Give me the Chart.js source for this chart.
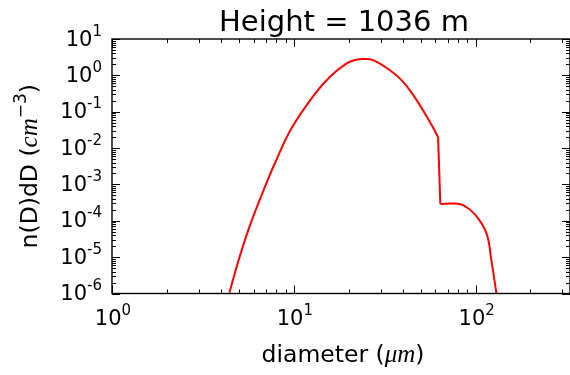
<!DOCTYPE html>
<html>
<head>
<meta charset="utf-8">
<script src="https://cdn.jsdelivr.net/npm/chart.js@4/dist/chart.umd.min.js"></script>
<style>
  html, body { margin: 0; padding: 0; background: #fff; }
  #wrap { width: 570px; height: 375px; }
</style>
</head>
<body>
<div id="wrap"><canvas id="c" width="570" height="375"></canvas></div>
<script>
// Droplet size distribution at one altitude
const titleText = 'Height = 1036 m';
const diameter = [4.43, 4.94, 5.66, 6.65, 7.93, 9.71, 12.93, 15.8, 19.5, 21.6, 24.0, 27.3, 33.6, 39.1, 45.3, 55.8, 62.1,
                  63.9, 75, 85.2, 99.0, 114.5, 121.9, 130];
const concentration = [1.07e-6, 7.5e-6, 6.2e-5, 5.1e-4, 4.2e-3, 3.5e-2, 0.29, 0.92, 2.14, 2.63, 2.82, 2.63, 1.40, 0.74, 0.29, 0.054, 0.020,
                       2.9e-4, 3.0e-4, 2.7e-4, 1.5e-4, 4.6e-5, 8.3e-6, 1.0e-6];
// last diameter of the main mode, where the distribution steps down
const stepDiameter = 62.1;

// Axis ranges and labelled decades
const xRange = [1, 330];
const yRange = [1e-6, 10];
const xTickExponents = [0, 1, 2];
const yTickExponents = [1, 0, -1, -2, -3, -4, -5, -6];

const points = diameter.map((d, i) => ({ x: d, y: concentration[i] }));
const iStep = diameter.indexOf(stepDiameter);
const mainMode = points.slice(0, iStep + 1);
const stepDown = points.slice(iStep, iStep + 2);
const tailMode = points.slice(iStep + 1);

const SANS = 'DejaVu Sans';
const MATH = 'Liberation Serif';

// Draw a run of differently styled text pieces, centred on (cx, baseline)
function drawRuns(ctx, runs, cx, baseline) {
  let total = 0;
  runs.forEach(r => { ctx.font = r.font; r.w = ctx.measureText(r.text).width; total += r.w; });
  let x = cx - total / 2;
  ctx.textAlign = 'left';
  ctx.textBaseline = 'alphabetic';
  runs.forEach(r => {
    ctx.font = r.font;
    ctx.fillText(r.text, x, baseline + (r.dy || 0));
    x += r.w;
  });
}

function powRuns(e) {
  return [
    { text: '10', font: `21px ${SANS}` },
    { text: String(e), font: `15px ${SANS}`, dy: -10 }
  ];
}

const axesPainter = {
  id: 'axesPainter',
  afterDraw(chart) {
    const { ctx, chartArea: a, scales } = chart;
    const xs = scales.x, ys = scales.y;
    ctx.save();
    ctx.strokeStyle = '#000';
    ctx.fillStyle = '#000';
    ctx.lineWidth = 1;

    // x ticks on bottom and top, pointing inward
    ctx.beginPath();
    for (let e = 0; e <= 2; e++) {
      for (let m = 1; m <= 9; m++) {
        const v = m * Math.pow(10, e);
        if (v < xRange[0] || v > xRange[1]) continue;
        const px = Math.round(xs.getPixelForValue(v)) + 0.5;
        const len = m === 1 ? 8 : 4;
        ctx.moveTo(px, a.bottom); ctx.lineTo(px, a.bottom - len);
        ctx.moveTo(px, a.top); ctx.lineTo(px, a.top + len);
      }
    }
    // y ticks on left and right
    for (let e = -6; e <= 1; e++) {
      for (let m = 1; m <= 9; m++) {
        const v = m * Math.pow(10, e);
        if (v < yRange[0] * 0.999 || v > yRange[1] * 1.001) continue;
        const py = Math.round(ys.getPixelForValue(v)) + 0.5;
        const len = m === 1 ? 8 : 4;
        ctx.moveTo(a.left, py); ctx.lineTo(a.left + len, py);
        ctx.moveTo(a.right, py); ctx.lineTo(a.right - len, py);
      }
    }
    ctx.stroke();

    // frame
    ctx.lineWidth = 1.4;
    ctx.strokeRect(a.left, a.top, a.right - a.left, a.bottom - a.top);

    // x tick labels
    xTickExponents.forEach(e => {
      const px = xs.getPixelForValue(Math.pow(10, e));
      drawRuns(ctx, powRuns(e), px + 1, a.bottom + 31.5);
    });

    // y tick labels, right aligned
    yTickExponents.forEach(e => {
      const py = ys.getPixelForValue(Math.pow(10, e));
      const runs = powRuns(e);
      let w = 0;
      runs.forEach(r => { ctx.font = r.font; w += ctx.measureText(r.text).width; });
      drawRuns(ctx, runs, a.left - 10 - w / 2, py + 6.5);
    });

    // title
    drawRuns(ctx, [{ text: titleText, font: `29px ${SANS}` }], 344, 31);

    // x axis title
    drawRuns(ctx, [
      { text: 'diameter (', font: `23.5px ${SANS}` },
      { text: 'μm', font: `italic 25px ${MATH}` },
      { text: ')', font: `23.5px ${SANS}` }
    ], 343, 362);

    // y axis title, rotated
    ctx.save();
    ctx.translate(37, (a.top + a.bottom) / 2);
    ctx.rotate(-Math.PI / 2);
    drawRuns(ctx, [
      { text: 'n(D)dD (', font: `23.5px ${SANS}` },
      { text: 'cm', font: `italic 25px ${MATH}` },
      { text: '−3', font: `17px ${SANS}`, dy: -11 },
      { text: ')', font: `23.5px ${SANS}` }
    ], 0, 0);
    ctx.restore();

    ctx.restore();
  }
};

const lineStyle = { borderColor: '#ff0000', borderWidth: 2, pointRadius: 0, fill: false };

new Chart(document.getElementById('c'), {
  type: 'line',
  data: {
    datasets: [
      { ...lineStyle, data: mainMode, tension: 0.4 },
      { ...lineStyle, data: stepDown, tension: 0 },
      { ...lineStyle, data: tailMode, tension: 0.4 }
    ]
  },
  options: {
    responsive: false,
    animation: false,
    devicePixelRatio: 1,
    layout: { padding: { left: 112, top: 39, right: 0, bottom: 81.5 } },
    plugins: { legend: { display: false }, tooltip: { enabled: false } },
    scales: {
      x: { type: 'logarithmic', min: xRange[0], max: xRange[1], display: false },
      y: { type: 'logarithmic', min: yRange[0], max: yRange[1], display: false }
    }
  },
  plugins: [axesPainter]
});
</script>
</body>
</html>
